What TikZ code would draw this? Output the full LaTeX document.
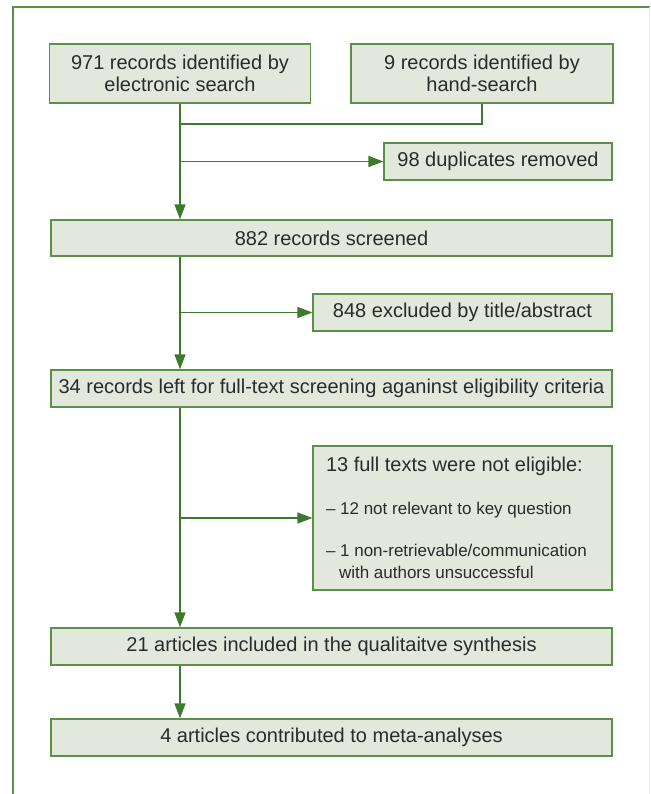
\documentclass[tikz,border=0pt]{standalone}
\usepackage{fontspec}
\setmainfont{Liberation Sans}
\usetikzlibrary{arrows.meta}
\definecolor{boxgreen}{HTML}{5A9148}
\definecolor{boxfill}{HTML}{E2E8DC}
\definecolor{linegreen}{HTML}{3D7A2E}
\definecolor{textgrey}{HTML}{2B2B2B}
\tikzset{
  flowbox/.style={draw=boxgreen, fill=boxfill, line width=1.2pt, text=textgrey, font=\fontsize{20}{22}\selectfont, align=center, inner sep=0pt, minimum height=37pt},
  flowline/.style={draw=linegreen, line width=1.3pt},
  flowarrow/.style={flowline, -{Triangle[length=15pt,width=11pt]}},
  framegreen/.style={draw=boxgreen, line width=1.3pt}
}

\begin{document}
\begin{tikzpicture}[x=1pt,y=-1pt]
    \useasboundingbox (0,0) rectangle (650,794);
    \draw[framegreen] (13,794) -- (13,7) -- (650,7);
    \draw[black!8, line width=1pt] (649,7) -- (649,794);

    \node[flowbox, minimum width=261pt, minimum height=59pt] (elec) at (180,73.5) {971 records identified by\\electronic search};
    \node[flowbox, minimum width=262pt, minimum height=59pt] (hand) at (482,73.5) {9 records identified by\\hand-search};
    \node[flowbox, minimum width=228pt] (dup) at (498,161.5) {98 duplicates removed};
    \node[flowbox, minimum width=561pt, minimum height=36pt] (scr) at (331.5,238) {882 records screened};
    \node[flowbox, minimum width=299pt] (excl) at (462.5,312.5) {848 excluded by title/abstract};
    \node[flowbox, minimum width=561pt] (full) at (331.5,388.5) {34 records left for full-text screening aganinst eligibility criteria};
    \node[flowbox, minimum width=299pt, minimum height=144pt, text width=273pt, align=flush left, inner xsep=13pt] (notel) at (462.5,518)
      {13 full texts were not eligible:\\[21pt]
       {\fontsize{17}{22}\selectfont -- 12 not relevant to key question\\[20pt]
       -- 1 non-retrievable/communication\\\hspace*{13pt}with authors unsuccessful}};
    \node[flowbox, minimum width=561pt] (qual) at (331.5,646.5) {21 articles included in the qualitaitve synthesis};
    \node[flowbox, minimum width=561pt] (meta) at (331.5,737.5) {4 articles contributed to meta-analyses};

    \coordinate (join) at (elec.south |- 0,124);
    \draw[flowline] (hand.south) |- (join);
    \draw[flowarrow] (elec.south) -- (scr.north -| elec.south);
    \draw[flowarrow] (elec.south |- dup.west) -- (dup.west);
    \draw[flowarrow] (scr.south -| elec.south) -- (full.north -| elec.south);
    \draw[flowarrow] (elec.south |- excl.west) -- (excl.west);
    \draw[flowarrow] (full.south -| elec.south) -- (qual.north -| elec.south);
    \draw[flowarrow] (elec.south |- notel.west) -- (notel.west);
    \draw[flowarrow] (qual.south -| elec.south) -- (meta.north -| elec.south);
\end{tikzpicture}
\end{document}
